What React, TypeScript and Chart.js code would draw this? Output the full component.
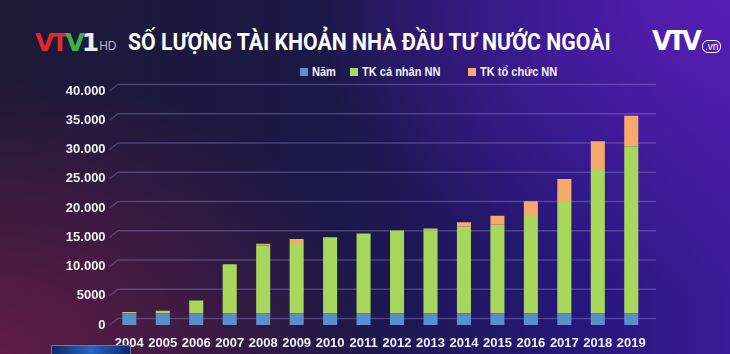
import React, { useEffect, useRef } from "react";
import { Chart, registerables } from "chart.js";

Chart.register(...registerables);

const years = ["2004", "2005", "2006", "2007", "2008", "2009", "2010", "2011", "2012", "2013", "2014", "2015", "2016", "2017", "2018", "2019"];
const namValues = [2004, 2005, 2006, 2007, 2008, 2009, 2010, 2011, 2012, 2013, 2014, 2015, 2016, 2017, 2018, 2019];
const caNhanValues = [220, 420, 2190, 8390, 11590, 11990, 13010, 13630, 14140, 14190, 14790, 15140, 16610, 19180, 24650, 28530];
const toChucValues = [0, 0, 0, 0, 300, 700, 0, 0, 0, 300, 780, 1510, 2510, 3760, 4730, 5230];
const yTickValues = [0, 5000, 10000, 15000, 20000, 25000, 30000, 35000, 40000];
const yTickLabels = ["0", "5000", "10.000", "15.000", "20.000", "25.000", "30.000", "35.000", "40.000"];
const seriesNames = ["Năm", "TK cá nhân NN", "TK tổ chức NN"];
const seriesColors = ["#5b8fca", "#a7d85c", "#f6a96c"];

const FONT = "'Liberation Sans', Arial, sans-serif";

// draws the perspective-style gridlines (back wall) behind the bars
const wallGridPlugin = {
  id: "wallGrid",
  beforeDatasetsDraw(chart: any) {
    const { ctx, chartArea, scales } = chart;
    const y = scales.y;
    ctx.save();
    ctx.strokeStyle = "rgba(165,155,225,0.32)";
    ctx.lineWidth = 1.5;
    for (const v of yTickValues) {
      const py = y.getPixelForValue(v);
      ctx.beginPath();
      ctx.moveTo(chartArea.left - 3, py);
      ctx.lineTo(chartArea.left + 5.5, py - 6.5);
      ctx.lineTo(chartArea.right + 8, py - 6.5);
      ctx.stroke();
    }
    ctx.restore();
  },
};

export default function App() {
  const canvasRef = useRef<HTMLCanvasElement | null>(null);

  useEffect(() => {
    const canvas = canvasRef.current;
    if (!canvas) return;
    const chart = new Chart(canvas, {
      type: "bar",
      data: {
        labels: years,
        datasets: [
          { label: seriesNames[0], data: namValues, backgroundColor: seriesColors[0], borderWidth: 0 },
          { label: seriesNames[1], data: caNhanValues, backgroundColor: seriesColors[1], borderWidth: 0 },
          { label: seriesNames[2], data: toChucValues, backgroundColor: seriesColors[2], borderWidth: 0 },
        ],
      },
      options: {
        animation: false,
        responsive: false,
        maintainAspectRatio: false,
        layout: { padding: { top: 91, right: 82, left: 0, bottom: 0 } },
        plugins: { legend: { display: false }, tooltip: { enabled: false }, title: { display: false } },
        datasets: { bar: { barPercentage: 0.42, categoryPercentage: 1 } },
        scales: {
          x: {
            stacked: true,
            grid: { display: false, drawTicks: false },
            border: { display: false },
            ticks: { color: "#f2f0f8", font: { family: FONT, size: 13, weight: "bold" }, padding: 11, maxRotation: 0, autoSkip: false },
            afterFit: (scale: any) => { scale.height = 29; },
          },
          y: {
            stacked: true,
            min: 0,
            max: 40000,
            grid: { display: false, drawTicks: false },
            border: { display: false },
            ticks: {
              stepSize: 5000,
              color: "#f2f0f8",
              font: { family: FONT, size: 13, weight: "bold" },
              padding: 7,
              callback: (v: any) => {
                const i = yTickValues.indexOf(Number(v));
                return i >= 0 ? yTickLabels[i] : "";
              },
            },
            afterFit: (scale: any) => { scale.width = 112.6; },
          },
        },
      },
      plugins: [wallGridPlugin],
    });
    return () => chart.destroy();
  }, []);

  const legendItems = [
    { x: 300, name: seriesNames[0], color: seriesColors[0] },
    { x: 350, name: seriesNames[1], color: seriesColors[1] },
    { x: 468, name: seriesNames[2], color: seriesColors[2] },
  ];

  return (
    <div
      style={{
        position: "fixed",
        left: 0,
        top: 0,
        width: 730,
        height: 354,
        overflow: "hidden",
        background:
          "radial-gradient(ellipse 420px 300px at 100% 0%, rgba(88,30,180,0.95) 0%, rgba(88,30,180,0) 100%)," +
          "radial-gradient(ellipse 380px 280px at 0% 100%, rgba(100,28,70,0.95) 0%, rgba(100,28,70,0) 100%)," +
          "linear-gradient(90deg, #1d1936 0%, #1a1846 45%, #26177a 80%, #3a1a96 100%)",
        fontFamily: FONT,
      }}
    >
      {/* VTV1 HD logo */}
      <div style={{ position: "absolute", left: 35, top: 28, height: 28, display: "flex", alignItems: "flex-end", fontFamily: "'DejaVu Sans', 'Liberation Sans', sans-serif", fontWeight: "bold" }}>
        <span style={{ fontSize: 25, lineHeight: "27px", letterSpacing: -3 }}>
          <span style={{ color: "#e3262e" }}>V</span>
          <span style={{ color: "#d8302e" }}>T</span>
          <span style={{ color: "#3bb34a" }}>V</span>
          <span style={{ color: "#ececec" }}>1</span>
        </span>
        <span style={{ color: "#b9b9c4", fontSize: 12, lineHeight: "19px", marginLeft: 3, fontWeight: "normal", fontFamily: FONT }}>HD</span>
      </div>
      {/* Title */}
      <div
        style={{
          position: "absolute",
          left: 128,
          top: 28,
          fontFamily: "Roboto, 'Liberation Sans', sans-serif",
          fontWeight: "bold",
          fontSize: 24,
          lineHeight: "28px",
          color: "#ffffff",
          whiteSpace: "nowrap",
          transform: "scaleX(0.885)",
          transformOrigin: "left center",
        }}
      >
        SỐ LƯỢNG TÀI KHOẢN NHÀ ĐẦU TƯ NƯỚC NGOÀI
      </div>
      {/* VTV.vn logo */}
      <div style={{ position: "absolute", left: 652, top: 28, display: "flex", alignItems: "flex-end" }}>
        <span style={{ color: "#ffffff", fontWeight: "bold", fontSize: 26, lineHeight: "26px", letterSpacing: -4, fontFamily: "'DejaVu Sans', 'Liberation Sans', sans-serif" }}>VTV</span>
        <span style={{ color: "#ffffff", fontSize: 10, lineHeight: "11px", border: "1.5px solid #ffffff", borderRadius: 6, padding: "0 2px", marginLeft: 4, marginBottom: 1 }}>.vn</span>
      </div>
      {/* Legend */}
      {legendItems.map((it) => (
        <div key={it.name} style={{ position: "absolute", left: it.x, top: 64, display: "flex", alignItems: "center", height: 15 }}>
          <span style={{ display: "inline-block", width: 8, height: 8, background: it.color, marginRight: 4 }} />
          <span style={{ color: "#f4f2fa", fontWeight: "bold", fontSize: 12, whiteSpace: "nowrap", transform: "scaleX(0.92)", transformOrigin: "left center", display: "inline-block" }}>{it.name}</span>
        </div>
      ))}
      <canvas ref={canvasRef} width={730} height={354} style={{ position: "absolute", left: 0, top: 0, width: 730, height: 354 }} />
      {/* small video thumbnail overlay bottom-left */}
      <div style={{ position: "absolute", left: 51, top: 345, width: 78, height: 12, background: "linear-gradient(90deg, #0d2a6a, #2a64c0 50%, #0d2a6a)", border: "1px solid #777" }} />
    </div>
  );
}
